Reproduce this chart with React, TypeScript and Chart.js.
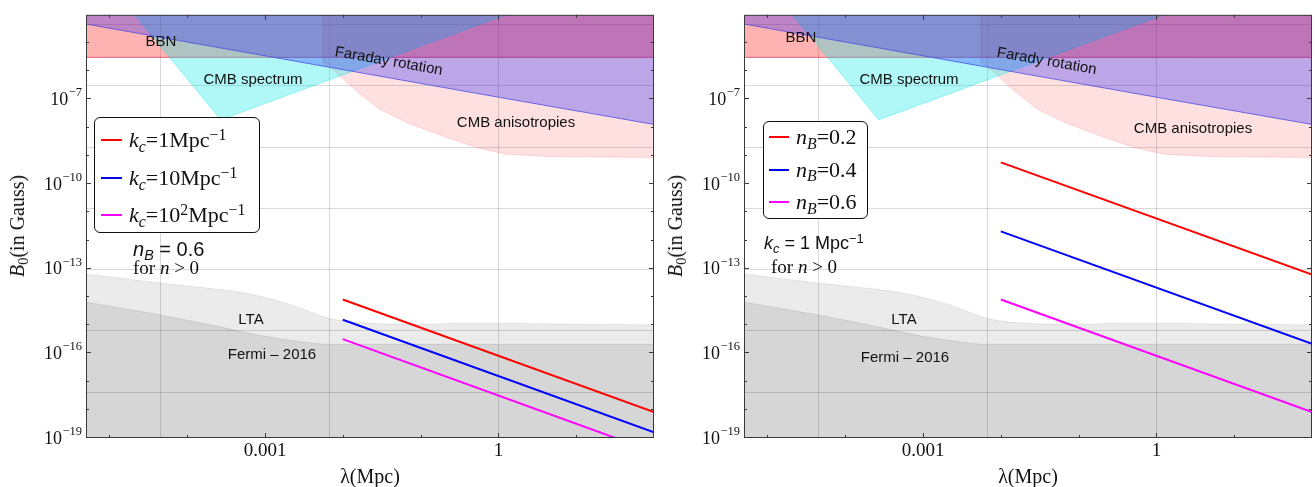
import React, { useEffect, useRef } from "react";
import { Chart, registerables } from "chart.js";

Chart.register(...registerables);

// ---------------- axes ----------------
const X_MIN = 5e-6;
const X_MAX = 100;
const Y_MIN = 1e-19;
const Y_MAX = 1e-4;

const X_TICKS = [1e-5, 1e-4, 1e-3, 1e-2, 1e-1, 1, 10];
const X_TICK_LABELS = ["", "", "0.001", "", "", "1", ""];
const Y_TICKS = [1e-19, 1e-18, 1e-17, 1e-16, 1e-15, 1e-14, 1e-13, 1e-12, 1e-11, 1e-10, 1e-9, 1e-8, 1e-7, 1e-6, 1e-5];
// labels are "10" raised to these exponents ("" = unlabelled tick)
const Y_TICK_EXPONENTS = ["−19", "", "", "−16", "", "", "−13", "", "", "−10", "", "", "−7", "", ""];

const GRID_X = [4.54e-5, 6.74e-3, 1];
const GRID_Y = [4.54e-5, 3.06e-7, 2.06e-9, 1.39e-11, 9.36e-14, 6.31e-16, 4.25e-18];

// ---------------- exclusion regions (λ in Mpc, B in Gauss) ----------------
const BBN_X = [5e-6, 100];
const BBN_Y = [3.1e-6, 3.1e-6];

const FARADAY_X = [5e-6, 1, 100];
const FARADAY_Y = [4.7e-5, 1.2e-7, 1.3e-8];

const CMB_SPEC_X = [2.1e-5, 2.7e-4, 1.25];
const CMB_SPEC_Y = [1e-4, 1.9e-8, 1e-4];

const CMB_ANIS_X = [5.6e-3, 5.6e-3, 7.5e-3, 0.016, 0.03, 0.071, 0.195, 0.53, 1.25, 4.4, 100];
const CMB_ANIS_Y = [1e-4, 2.0e-6, 1.1e-6, 1.68e-7, 4.4e-8, 1.41e-8, 5.0e-9, 1.95e-9, 1.15e-9, 9.5e-10, 8.7e-10];

const LTA_X = [5e-6, 4.5e-5, 7.1e-4, 2.45e-3, 6.6e-3, 0.016, 0.105, 0.36, 100];
const LTA_Y = [6.5e-14, 3.1e-14, 1.2e-14, 4.7e-15, 1.74e-15, 1.23e-15, 1.07e-15, 1.17e-15, 1.02e-15];

const FERMI_X = [5e-6, 4.5e-5, 2.6e-4, 9.1e-4, 2.45e-3, 6.6e-3, 100];
const FERMI_Y = [6.5e-15, 2.3e-15, 8.7e-16, 4.2e-16, 2.75e-16, 2.1e-16, 2.1e-16];

// ---------------- model curves ----------------
const LINE_LAMBDA = [0.01, 100];
// left panel: n_B = 0.6
const KC_1 = [8.1e-15, 8.3e-19];
const KC_10 = [1.55e-15, 1.6e-19];
const KC_100 = [3.2e-16, 3.2e-20];
// right panel: k_c = 1 Mpc^-1
const NB_02 = [5.9e-10, 6.2e-14];
const NB_04 = [2.1e-12, 2.2e-16];
const NB_06 = [8.1e-15, 8.3e-19];

// ---------------- styles ----------------
const SERIF = "'Liberation Serif', 'Times New Roman', serif";
const SANS = "'Liberation Sans', Arial, sans-serif";
const GRID_COLOR = "rgba(0,0,0,0.15)";
const FRAME_COLOR = "#3a3a3a";
const TEXT_COLOR = "#111";
const PANEL_W = 657;
const PANEL_H = 487;

const REGIONS = [
  { x: FERMI_X, y: FERMI_Y, fill: "start", bg: "rgba(0,0,0,0.09)", edge: "rgba(0,0,0,0.10)", smooth: true },
  { x: LTA_X, y: LTA_Y, fill: "start", bg: "rgba(0,0,0,0.08)", edge: "rgba(0,0,0,0.08)", smooth: true },
  { x: FARADAY_X, y: FARADAY_Y, fill: "end", bg: "rgba(0,0,255,0.26)", edge: "rgba(70,70,230,0.75)", smooth: false },
  { x: CMB_SPEC_X, y: CMB_SPEC_Y, fill: "shape", bg: "rgba(0,232,232,0.31)", edge: "rgba(0,220,220,0.35)", smooth: false },
  { x: CMB_ANIS_X, y: CMB_ANIS_Y, fill: "end", bg: "rgba(255,0,0,0.12)", edge: "rgba(255,120,120,0.25)", smooth: false },
  { x: BBN_X, y: BBN_Y, fill: "end", bg: "rgba(255,0,0,0.3)", edge: "rgba(230,50,90,0.75)", smooth: false },
];

const pts = (xs: number[], ys: number[]) => xs.map((x, i) => ({ x, y: ys[i] }));

const framePlugin = {
  id: "frameTicks",
  afterDatasetsDraw(chart: any) {
    const { ctx, chartArea: a, scales } = chart;
    const xs = scales.x;
    const ys = scales.y;
    ctx.save();
    ctx.strokeStyle = FRAME_COLOR;
    ctx.lineWidth = 1;
    const seg = (x1: number, y1: number, x2: number, y2: number) => {
      ctx.beginPath();
      ctx.moveTo(x1, y1);
      ctx.lineTo(x2, y2);
      ctx.stroke();
    };
    X_TICKS.forEach((v, i) => {
      const p = Math.round(xs.getPixelForValue(v)) + 0.5;
      if (p <= a.left + 1 || p >= a.right - 1) return;
      const len = X_TICK_LABELS[i] ? 5 : 3;
      seg(p, a.bottom, p, a.bottom - len);
      seg(p, a.top, p, a.top + len);
    });
    Y_TICKS.forEach((v, i) => {
      const p = Math.round(ys.getPixelForValue(v)) - 0.5;
      if (p <= a.top + 1 || p >= a.bottom - 1) return;
      const len = Y_TICK_EXPONENTS[i] ? 5 : 3;
      seg(a.left, p, a.left + len, p);
      seg(a.right, p, a.right - len, p);
    });
    ctx.strokeRect(a.left + 0.5, a.top + 0.5, a.right - a.left - 1, a.bottom - a.top - 1);

    // y tick labels: 10 with a raised exponent, placed on the y scale's ticks
    ctx.fillStyle = TEXT_COLOR;
    ctx.textAlign = "right";
    ctx.textBaseline = "alphabetic";
    const right = a.left - 4;
    Y_TICKS.forEach((v, i) => {
      const e = Y_TICK_EXPONENTS[i];
      if (!e) return;
      const p = ys.getPixelForValue(v);
      ctx.font = `12.5px ${SERIF}`;
      const w = ctx.measureText(e).width;
      ctx.fillText(e, right, p - 3);
      ctx.font = `18px ${SERIF}`;
      ctx.fillText("10", right - w - 0.5, p + 5.5);
    });
    ctx.restore();
  },
};

function makeChart(canvas: HTMLCanvasElement, series: { y: number[]; color: string }[]) {
  const lineSets = series.map((s) => ({
    data: pts(LINE_LAMBDA, s.y),
    borderColor: s.color,
    backgroundColor: s.color,
    borderWidth: 2,
    fill: false,
    showLine: true,
    pointRadius: 0,
    clip: 0,
  }));
  const regionSets = REGIONS.map((r) => ({
    data: pts(r.x, r.y),
    fill: r.fill,
    backgroundColor: r.bg,
    borderColor: r.edge,
    borderWidth: 1,
    showLine: true,
    pointRadius: 0,
    clip: 0,
    cubicInterpolationMode: r.smooth ? "monotone" : "default",
    tension: r.smooth ? 0.4 : 0,
  }));
  const gridAxis = (pos: string, values: number[], horizontal: boolean) => ({
    type: "logarithmic",
    position: pos,
    min: horizontal ? X_MIN : Y_MIN,
    max: horizontal ? X_MAX : Y_MAX,
    bounds: "data",
    display: true,
    grid: { color: GRID_COLOR, lineWidth: 1, drawTicks: false },
    border: { display: false },
    ticks: { display: false },
    afterBuildTicks: (s: any) => {
      s.ticks = values.map((v) => ({ value: v }));
    },
    afterFit: (s: any) => {
      if (horizontal) s.height = 0;
      else s.width = 0;
    },
  });
  return new Chart(canvas, {
    type: "scatter",
    data: { datasets: [...lineSets, ...regionSets] as any },
    options: {
      animation: false,
      responsive: false,
      maintainAspectRatio: false,
      devicePixelRatio: 1,
      events: [],
      layout: { padding: { left: 0, right: 3, top: 11, bottom: 0 } },
      plugins: { legend: { display: false }, tooltip: { enabled: false } },
      elements: { point: { radius: 0 }, line: { tension: 0 } },
      scales: {
        x: {
          type: "logarithmic",
          position: "bottom",
          min: X_MIN,
          max: X_MAX,
          bounds: "data",
          grid: { display: false, drawTicks: false },
          border: { display: false },
          afterBuildTicks: (s: any) => {
            s.ticks = X_TICKS.map((v) => ({ value: v }));
          },
          afterFit: (s: any) => {
            s.height = 49;
          },
          ticks: {
            autoSkip: false,
            maxRotation: 0,
            padding: 2,
            color: TEXT_COLOR,
            font: { family: SERIF, size: 19 },
            callback: (_v: any, i: number) => X_TICK_LABELS[i],
          },
        },
        y: {
          type: "logarithmic",
          position: "left",
          min: Y_MIN,
          max: Y_MAX,
          bounds: "data",
          grid: { display: false, drawTicks: false },
          border: { display: false },
          afterBuildTicks: (s: any) => {
            s.ticks = Y_TICKS.map((v) => ({ value: v }));
          },
          afterFit: (s: any) => {
            s.width = 86;
          },
          ticks: {
            autoSkip: false,
            padding: 4,
            color: TEXT_COLOR,
            font: { family: SERIF, size: 18 },
            callback: () => "",
          },
        },
        xg: gridAxis("bottom", GRID_X, true),
        yg: gridAxis("left", GRID_Y, false),
      } as any,
    },
    plugins: [framePlugin],
  } as any);
}

const Sub = ({ children }: any) => (
  <span style={{ fontSize: "0.72em", position: "relative", top: "0.3em" }}>{children}</span>
);
const Sup = ({ children }: any) => (
  <span style={{ fontSize: "0.72em", position: "relative", top: "-0.45em" }}>{children}</span>
);

type Label = { x: number; y: number; text: any; font: string; size: number; rot?: number; anchor?: "center" | "left" };

const LEFT_PANEL = {
  left: 0,
  series: [
    { y: KC_1, color: "#ff0000", label: <><i>k</i><Sub><i>c</i></Sub>=1Mpc<Sup>−1</Sup></> },
    { y: KC_10, color: "#0000ff", label: <><i>k</i><Sub><i>c</i></Sub>=10Mpc<Sup>−1</Sup></> },
    { y: KC_100, color: "#ff00ff", label: <><i>k</i><Sub><i>c</i></Sub>=10<Sup>2</Sup>Mpc<Sup>−1</Sup></> },
  ],
  legend: { left: 94, top: 117, width: 166, height: 116, rows: [23, 61, 98], line: [7, 28], text: 35, size: 22 },
  labels: [
    { x: 161, y: 40, text: "BBN", font: SANS, size: 15 },
    { x: 253, y: 78, text: "CMB spectrum", font: SANS, size: 15 },
    { x: 389, y: 60, text: "Faraday rotation", font: SANS, size: 15, rot: 10 },
    { x: 516, y: 121, text: "CMB anisotropies", font: SANS, size: 15 },
    { x: 251, y: 318, text: "LTA", font: SANS, size: 15 },
    { x: 272, y: 353, text: "Fermi – 2016", font: SANS, size: 15 },
    { x: 133, y: 249, text: <><i>n</i><Sub><i>B</i></Sub> = 0.6</>, font: SANS, size: 20, anchor: "left" },
    { x: 133, y: 267, text: <>for <i>n</i> &gt; 0</>, font: SERIF, size: 19, anchor: "left" },
  ] as Label[],
};

const RIGHT_PANEL = {
  left: 658,
  series: [
    { y: NB_02, color: "#ff0000", label: <><i>n</i><Sub><i>B</i></Sub>=0.2</> },
    { y: NB_04, color: "#0000ff", label: <><i>n</i><Sub><i>B</i></Sub>=0.4</> },
    { y: NB_06, color: "#ff00ff", label: <><i>n</i><Sub><i>B</i></Sub>=0.6</> },
  ],
  legend: { left: 105, top: 121, width: 105, height: 98, rows: [16, 48.5, 81], line: [6, 26], text: 33, size: 22 },
  labels: [
    { x: 143, y: 36, text: "BBN", font: SANS, size: 15 },
    { x: 251, y: 78, text: "CMB spectrum", font: SANS, size: 15 },
    { x: 389, y: 60, text: "Farady rotation", font: SANS, size: 15, rot: 10 },
    { x: 535, y: 127, text: "CMB anisotropies", font: SANS, size: 15 },
    { x: 246, y: 318, text: "LTA", font: SANS, size: 15 },
    { x: 247, y: 356, text: "Fermi – 2016", font: SANS, size: 15 },
    { x: 106, y: 243, text: <><i>k</i><Sub><i>c</i></Sub> = 1 Mpc<Sup>−1</Sup></>, font: SANS, size: 18, anchor: "left" },
    { x: 113, y: 266, text: <>for <i>n</i> &gt; 0</>, font: SERIF, size: 19, anchor: "left" },
  ] as Label[],
};

function Panel({ cfg }: { cfg: typeof LEFT_PANEL }) {
  const ref = useRef<HTMLCanvasElement>(null);
  useEffect(() => {
    const chart = makeChart(ref.current as HTMLCanvasElement, cfg.series);
    return () => chart.destroy();
  }, []);
  const lg = cfg.legend;
  return (
    <div style={{ position: "absolute", left: cfg.left, top: 0, width: PANEL_W, height: PANEL_H }}>
      <canvas ref={ref} width={PANEL_W} height={PANEL_H} style={{ display: "block", width: PANEL_W, height: PANEL_H }} />
      {/* axis titles */}
      <div
        style={{
          position: "absolute", left: 17, top: 226, transform: "translate(-50%,-50%) rotate(-90deg)",
          whiteSpace: "nowrap", fontFamily: SERIF, fontSize: 20, lineHeight: 1, color: TEXT_COLOR,
        }}
      >
        <i>B</i><Sub>0</Sub>(in Gauss)
      </div>
      <div
        style={{
          position: "absolute", left: 370, top: 476, transform: "translate(-50%,-50%)",
          whiteSpace: "nowrap", fontFamily: SERIF, fontSize: 20, lineHeight: 1, color: TEXT_COLOR,
        }}
      >
        λ(Mpc)
      </div>
      {/* region labels and notes */}
      {cfg.labels.map((l, i) => (
        <div
          key={i}
          style={{
            position: "absolute", left: l.x, top: l.y,
            transform: (l.anchor === "left" ? "translate(0,-50%)" : "translate(-50%,-50%)") + (l.rot ? ` rotate(${l.rot}deg)` : ""),
            whiteSpace: "nowrap", fontFamily: l.font, fontSize: l.size, lineHeight: 1, color: TEXT_COLOR,
          }}
        >
          {l.text}
        </div>
      ))}
      {/* legend */}
      <div
        style={{
          position: "absolute", left: lg.left, top: lg.top, width: lg.width, height: lg.height,
          boxSizing: "border-box", border: "1px solid #111", borderRadius: 6, background: "#fff",
        }}
      >
        {cfg.series.map((s, i) => (
          <React.Fragment key={i}>
            <div
              style={{
                position: "absolute", left: lg.line[0] - 1, top: lg.rows[i] - 2, width: lg.line[1] - lg.line[0], height: 2,
                background: s.color,
              }}
            />
            <div
              style={{
                position: "absolute", left: lg.text - 1, top: lg.rows[i] - 1, transform: "translate(0,-50%)",
                whiteSpace: "nowrap", fontFamily: SERIF, fontSize: lg.size, lineHeight: 1, color: TEXT_COLOR,
              }}
            >
              {s.label}
            </div>
          </React.Fragment>
        ))}
      </div>
    </div>
  );
}

export default function App() {
  return (
    <div style={{ position: "absolute", left: 0, top: 0, width: 1315, height: 487, background: "#fff", overflow: "hidden" }}>
      <Panel cfg={LEFT_PANEL} />
      <Panel cfg={RIGHT_PANEL} />
    </div>
  );
}
